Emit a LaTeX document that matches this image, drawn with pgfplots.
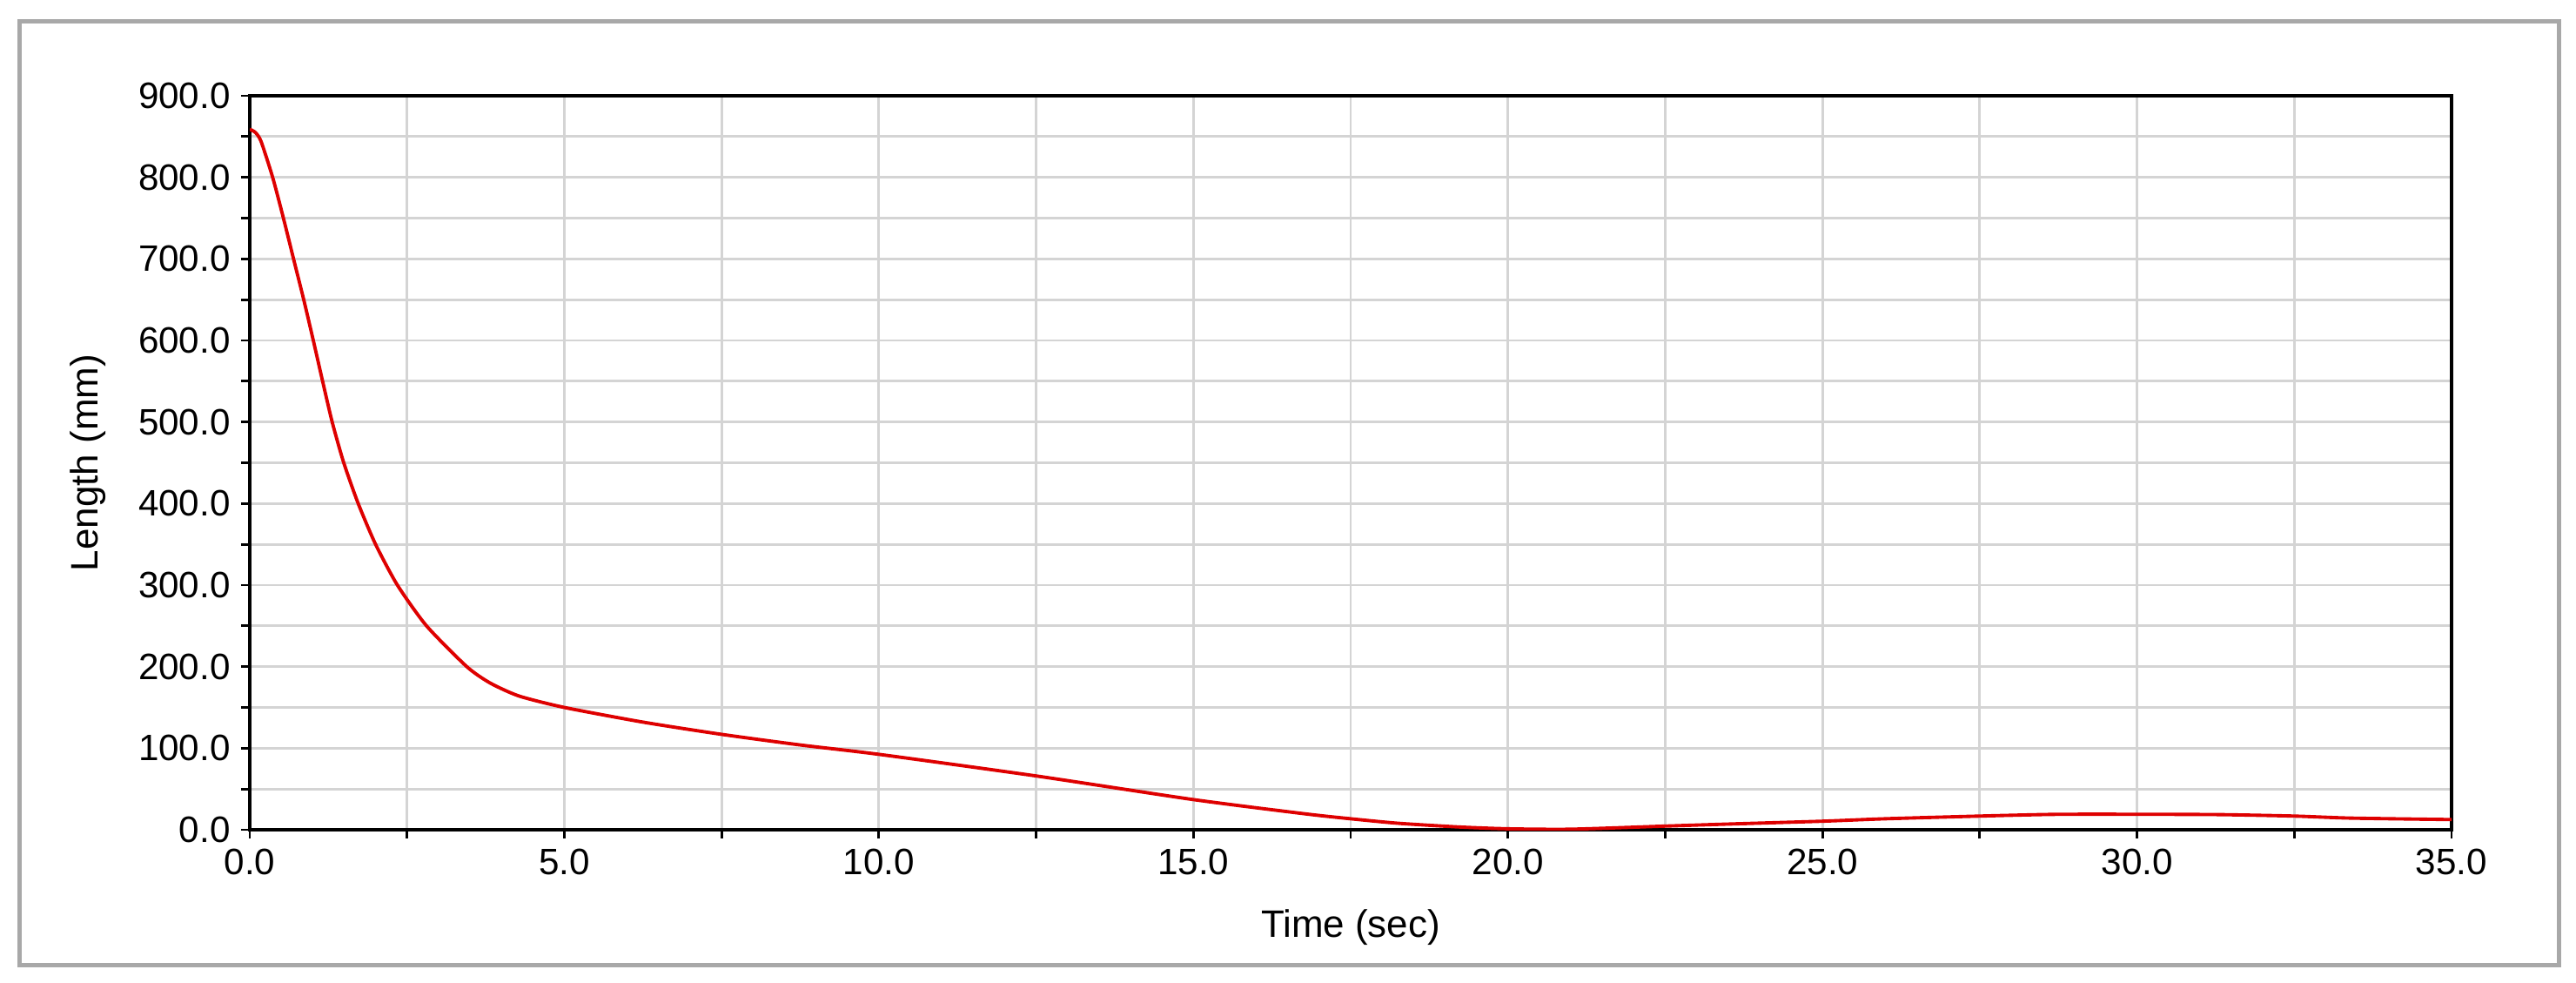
\documentclass[border=0pt]{standalone}
\usepackage{fontspec}
\setmainfont{Liberation Sans}
\usepackage{pgfplots}
\pgfplotsset{compat=1.18}
\definecolor{gridgray}{RGB}{212,212,212}
\definecolor{framegray}{RGB}{168,168,168}
\definecolor{curvered}{RGB}{222,0,0}

\begin{document}
\begin{tikzpicture}[x=1cm,y=1cm]
\useasboundingbox (0,0) rectangle (29.6,11.28);
\draw[framegray, line width=0.05cm] (0.22,0.20) rectangle (29.40,11.03);
\begin{axis}[
  at={(2.87cm,1.75cm)}, anchor=south west,
  scale only axis, width=25.30cm, height=8.43cm,
  xmin=0, xmax=35, ymin=0, ymax=900,
  xtick={0,5,...,35}, minor xtick={2.5,7.5,...,32.5},
  ytick={0,100,...,900}, minor ytick={50,150,...,850},
  xtick pos=bottom, ytick pos=left,
  grid=both,
  major grid style={gridgray, line width=0.8pt},
  minor grid style={gridgray, line width=0.8pt},
  tick align=outside,
  major tick length=0.1cm, minor tick length=0.1cm,
  tick style={black, line width=0.8pt},
  axis line style={black, line width=1.4pt},
  tick label style={font=\fontsize{12}{14}\selectfont},
  xticklabel style={/pgf/number format/.cd, fixed, fixed zerofill, precision=1, assume math mode=true},
  yticklabel style={/pgf/number format/.cd, fixed, fixed zerofill, precision=1, assume math mode=true},
  xlabel={Time (sec)},
  ylabel={Length (mm)},
  every axis x label/.style={at={(axis description cs:0.5,-0.147)}, anchor=base, font=\fontsize{12.5}{15}\selectfont},
  every axis y label/.style={at={(axis description cs:-0.0688,0.5)}, rotate=90, anchor=base, font=\fontsize{12.5}{15}\selectfont},
]
\addplot[curvered, line width=1.1pt, smooth, tension=0.4] table {
t L
0 859
0.09 855
0.18 844
0.364 800
0.535 750
0.696 700
0.858 650
1.01 600
1.158 550
1.31 500
1.494 450
1.724 400
2.0 350
2.347 300
2.81 250
3.45 200
3.82 180
4.28 164
5.0 150
6.25 132
7.5 117
8.75 104
10 92.5
12.5 66
15 37
16.78 19.5
17.5 13.5
18.25 8
19.2 3.5
20 1.2
21 0.7
22.5 4.5
23.5 7
25 10.5
26 13.5
27.5 16.8
28.7 18.9
30 19
31.3 18.6
32.5 16.8
33.4 14.3
35 12.5
};
\end{axis}
\end{tikzpicture}
\end{document}
